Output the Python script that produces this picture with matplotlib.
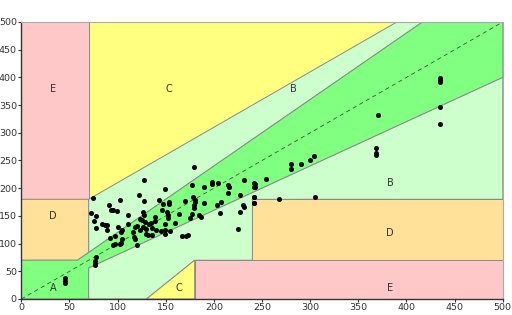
import matplotlib
matplotlib.use("Agg")
import matplotlib.pyplot as plt
from matplotlib.patches import Polygon

ref_vals = [74, 72, 76, 78, 78, 84, 87, 89, 89, 91, 93, 95, 99, 103, 92, 97, 95, 97, 103, 104,
            105, 104, 105, 100, 111, 111, 116, 117, 118, 120, 118, 120, 122, 123, 125, 126, 127, 127,
            127, 128, 123, 126, 129, 130, 132, 136, 133, 135, 139, 136, 139, 140, 143, 145, 146, 147,
            149, 149, 149, 149, 151, 152, 153, 153, 154, 152, 160, 164, 167, 171, 173, 170, 175, 177,
            178, 177, 179, 179, 179, 180, 180, 185, 187, 190, 190, 198, 198, 204, 203, 207, 206, 215,
            216, 215, 225, 227, 227, 230, 231, 231, 243, 243, 242, 242,
            45, 45, 45, 78, 77, 77, 77,
            242, 242, 254, 242, 242, 268, 305, 280, 280, 290, 300, 304,
            368, 368, 368, 370, 434.5, 434.5, 434.5, 434.5, 434.5]
pred_vals = [182, 156, 140, 149, 129, 136, 134, 134, 124, 170, 161, 160, 158, 179, 110, 113, 97, 100, 99, 101,
             109, 121, 124, 130, 151, 135, 121, 112, 109, 98, 130, 131, 188, 145, 142, 157, 176, 215,
             151, 139, 124, 130, 126, 117, 116, 116, 135, 137, 140, 128, 148, 124, 179, 122, 161, 172,
             199, 135, 124, 117, 157, 151, 172, 175, 122, 146, 137, 153, 113, 114, 115, 176, 146, 153,
             184, 205, 170, 164, 239, 179, 175, 151, 148, 173, 202, 212, 208, 209, 170, 175, 156, 206,
             203, 191, 127, 157, 188, 169, 166, 215, 208, 203, 184, 173,
             37, 33, 29, 75, 69, 64, 61,
             209, 203, 216, 185, 173, 181, 185, 244, 235, 244, 250, 259,
             272, 264, 260, 332, 398, 395, 392, 346, 316]

zone_labels = ["A", "B", "B", "C", "C", "D", "D", "E", "E"]
label_x = [33, 383, 283, 153, 164, 33, 383, 33, 383]
label_y = [20, 210, 379, 379, 20, 150, 120, 379, 20]

c_A, c_B, c_C, c_D, c_E = "#80ff80", "#ccffcc", "#ffff80", "#ffe199", "#ffc8c8"
zones = [
    ([(0, 180), (70, 180), (70, 500), (0, 500)], c_E),
    ([(0, 70), (58.33, 70), (70, 84), (70, 180), (0, 180)], c_D),
    ([(70, 180), (70, 500), (390, 500)], c_C),
    ([(70, 84), (70, 180), (390, 500), (416.67, 500)], c_B),
    ([(0, 0), (0, 70), (58.33, 70), (416.67, 500), (500, 500), (500, 400), (70, 56), (70, 0)], c_A),
    ([(70, 0), (70, 56), (500, 400), (500, 180), (240, 180), (240, 70), (180, 70), (130, 0)], c_B),
    ([(130, 0), (180, 70), (180, 0)], c_C),
    ([(180, 0), (180, 70), (500, 70), (500, 0)], c_E),
    ([(240, 70), (240, 180), (500, 180), (500, 70)], c_D),
]

fig = plt.figure(figsize=(5.12, 3.15), dpi=100)
ax = fig.add_axes([0.0416, 0.0508, 0.9404, 0.8794])
for pts, col in zones:
    ax.add_patch(Polygon(pts, closed=True, facecolor=col, edgecolor="#8a8a8a", linewidth=0.7, zorder=1))

ax.plot([0, 500], [0, 500], linestyle=(0, (5, 4)), color="#3a5a3a", linewidth=0.6, zorder=2)
ax.scatter(ref_vals, pred_vals, s=13, color="black", zorder=3, linewidths=0)

for t, x, y in zip(zone_labels, label_x, label_y):
    ax.text(x, y, t, ha="center", va="center", fontsize=7, color="#333333", zorder=4)

ax.set_xlim(0, 500)
ax.set_ylim(0, 500)
ax.set_xticks(range(0, 501, 50))
ax.set_yticks(range(0, 501, 50))
ax.tick_params(labelsize=6.8, colors="#333333", length=2, width=0.8, pad=1.2)
for s in ["top", "right"]:
    ax.spines[s].set_color("#aaaaaa")
    ax.spines[s].set_linewidth(0.8)
for s in ["left", "bottom"]:
    ax.spines[s].set_color("#333333")
    ax.spines[s].set_linewidth(1.0)

fig.savefig("out.png", dpi=100)
